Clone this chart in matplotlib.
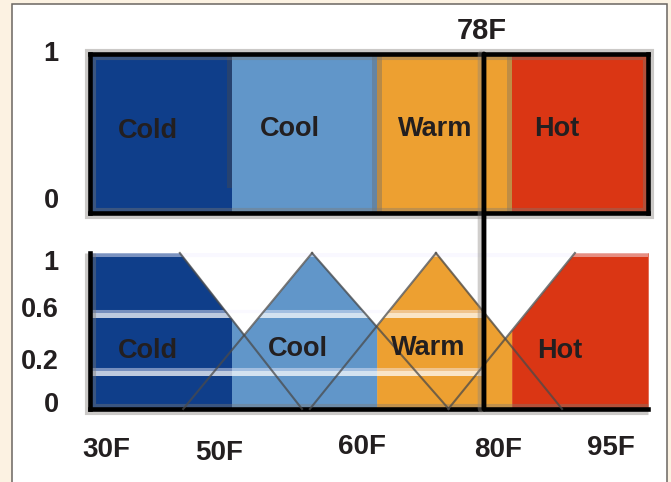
import numpy as np
import matplotlib
matplotlib.use("Agg")
import matplotlib.pyplot as plt
from matplotlib.patches import Rectangle, ConnectionPatch

plt.rcParams['font.family'] = ['Liberation Sans', 'DejaVu Sans']

# x is the position along the temperature scale, 0 = left edge, 100 = right edge
categories = ["Cold", "Cool", "Warm", "Hot"]
colors = ["#0F3E8A", "#6196C9", "#EDA031", "#DA3614"]
crisp_edges = [0, 25.4, 51.4, 75.6, 100]

# fuzzy membership functions (breakpoints, membership)
cold_x = [0, 16.1, 38.0]
cold_mu = [1, 1, 0]
cool_x = [16.7, 39.8, 64.3]
cool_mu = [0, 1, 0]
warm_x = [39.4, 62.0, 84.6]
warm_mu = [0, 1, 0]
hot_x = [64.2, 86.9, 100]
hot_mu = [0, 1, 1]
fuzzy_sets = [(cold_x, cold_mu), (cool_x, cool_mu), (warm_x, warm_mu), (hot_x, hot_mu)]

reading = 70.6          # the 78F input
reading_label = "78F"
temp_labels = ["30F", "50F", "60F", "80F", "95F"]
temp_pos = [2.9, 23.1, 48.7, 73.1, 93.4]
top_ylabels = ["1", "0"]
top_ylabel_pos = [1.0, 0.075]
bot_ylabels = ["1", "0.6", "0.2", "0"]
bot_ylabel_pos = [0.936, 0.635, 0.301, 0.026]
stripe_levels = [0.61, 0.235]

TXT = "#231F20"
W, H = 671, 482


def envelope(xs):
    return np.max([np.interp(xs, px, pm) for px, pm in fuzzy_sets], axis=0)


fig = plt.figure(figsize=(W / 100, H / 100), dpi=100, facecolor="#FCF2E2")
fig.add_artist(Rectangle((12 / W, -0.02), 655 / W, 1.02 - 4 / H, transform=fig.transFigure,
                         fc="white", ec="#6B6661", lw=1.1, zorder=-1))

ax_top = fig.add_axes([90 / W, 1 - 213 / H, 558 / W, 159 / H])
ax_bot = fig.add_axes([90 / W, 1 - 409 / H, 558 / W, 156 / H])
for ax in (ax_top, ax_bot):
    ax.set_xlim(0, 100)
    ax.set_ylim(0, 1)
    ax.set_facecolor("none")
    ax.set_xticks([])
    ax.set_yticks([])

# ---- crisp sets (top)
for i, c in enumerate(colors):
    ax_top.axvspan(crisp_edges[i], crisp_edges[i + 1], color=c, lw=0, zorder=1)
# blurred seams seen in the scan
ax_top.axvspan(24.5, 25.4, ymin=0.16, ymax=1, color="#4a4a4a", alpha=0.4, lw=0, zorder=1.5)
ax_top.axvspan(50.5, 52.4, color="#6a6a6a", alpha=0.4, lw=0, zorder=1.5)
ax_top.axvspan(74.7, 75.6, color="#6a6a6a", alpha=0.35, lw=0, zorder=1.5)
ax_top.add_patch(Rectangle((0, 0), 100, 1, fill=False, ec="#7d7873", lw=8, alpha=0.4,
                           clip_on=False, zorder=2.2))
for s in ax_top.spines.values():
    s.set_linewidth(3.3)
    s.set_color("black")

for cat, x, y in zip(categories, [10.4, 35.8, 61.8, 83.7], [0.515, 0.53, 0.53, 0.53]):
    ax_top.text(x, y, cat, ha="center", va="center", fontsize=19.5, fontweight="bold",
                color=TXT, zorder=6)
for lab, y in zip(top_ylabels, top_ylabel_pos):
    ax_top.text(-5.6, y, lab, ha="right", va="center", fontsize=19.5, fontweight="bold",
                color=TXT, clip_on=False)
ax_top.text(reading - 0.35, 1.145, reading_label, ha="center", va="center", fontsize=21,
            fontweight="bold", color=TXT, clip_on=False)

# ---- fuzzy sets (bottom)
for i, c in enumerate(colors):
    xs = np.linspace(crisp_edges[i], crisp_edges[i + 1], 400)
    ax_bot.fill_between(xs, 0, envelope(xs), color=c, lw=0.3, ec=c, zorder=1)

for lv in stripe_levels:
    ax_bot.hlines(lv + 0.02, 0, reading, color="#F4F2FF", alpha=0.45, lw=2.2, zorder=2)
    ax_bot.hlines(lv - 0.005, 0, reading, color="white", alpha=0.73, lw=3.6, zorder=2)
ax_bot.hlines(0.99, 0, 100, color="#F4F2FF", alpha=0.47, lw=2.9, zorder=2)

for px, pm in fuzzy_sets:
    for k in range(len(px) - 1):
        if pm[k] != pm[k + 1]:
            ax_bot.plot(px[k:k + 2], pm[k:k + 2], color="#4a4a4a", alpha=0.75, lw=1.5,
                        zorder=3, clip_on=False)

ax_bot.plot([0, 0, 100], [1, 0, 0], color="#7d7873", lw=8, alpha=0.4, clip_on=False,
            solid_joinstyle="miter", solid_capstyle="butt", zorder=2.2)
ax_bot.spines["top"].set_visible(False)
ax_bot.spines["right"].set_visible(False)
for k in ("left", "bottom"):
    ax_bot.spines[k].set_linewidth(3.3)
    ax_bot.spines[k].set_color("black")

for cat, x, y in zip(categories, [10.4, 37.3, 60.6, 84.1], [0.37, 0.385, 0.39, 0.37]):
    ax_bot.text(x, y, cat, ha="center", va="center", fontsize=19.5, fontweight="bold",
                color=TXT, zorder=6)
for lab, y in zip(bot_ylabels, bot_ylabel_pos):
    ax_bot.text(-5.6, y, lab, ha="right", va="center", fontsize=19.5, fontweight="bold",
                color=TXT, clip_on=False)
for lab, x, y in zip(temp_labels, temp_pos, [-0.263, -0.282, -0.244, -0.263, -0.25]):
    ax_bot.text(x, y, lab, ha="center", va="center", fontsize=20, fontweight="bold",
                color=TXT, clip_on=False)

# the 78F reading crosses both panels
halo = ConnectionPatch(xyA=(reading - 0.5, 1), coordsA=ax_top.transData,
                       xyB=(reading - 0.5, 0), coordsB=ax_bot.transData,
                       color="#8a8580", lw=5, alpha=0.4, zorder=4)
fig.add_artist(halo)
line = ConnectionPatch(xyA=(reading, 1), coordsA=ax_top.transData,
                       xyB=(reading, 0), coordsB=ax_bot.transData,
                       color="black", lw=3.5, zorder=5)
fig.add_artist(line)

fig.savefig("out.png", dpi=100, facecolor=fig.get_facecolor())
